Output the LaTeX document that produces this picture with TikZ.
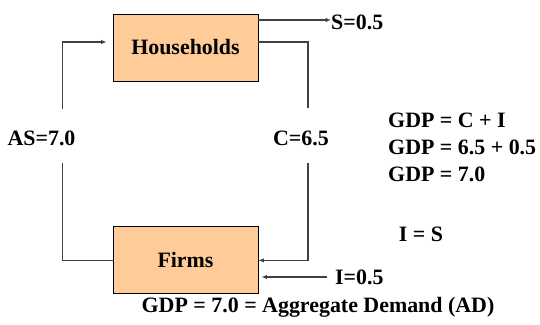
\documentclass[tikz,border=0pt]{standalone}
\usepackage{fontspec}
\setmainfont{Liberation Serif}
\usetikzlibrary{arrows.meta,positioning}
\definecolor{sector}{RGB}{255,204,153}
\tikzset{
  big/.style={font=\fontsize{22}{27}\selectfont\bfseries},
  sectorbox/.style={big,draw=black,fill=sector,minimum width=145bp,minimum height=67bp,line width=0.9bp},
  lab/.style={big,inner sep=0pt},
  wire/.style={draw=black!75,line width=1.2bp},
  flow/.style={wire,-{Latex[length=5.5bp,width=4.5bp]}},
}

\begin{document}
\begin{tikzpicture}[x=1bp,y=1bp]
\useasboundingbox (0,0) rectangle (540,324);

\node[sectorbox] (hh) at (185.5,276.5) {Households};
\node[sectorbox,below=145bp of hh] (firms) {Firms};

\node[lab] (as) at (41.5,186) {AS=7.0};
\node[lab] (c) at (301,186) {C=6.5};
\node[lab,anchor=west] (s) at (331,302) {S=0.5};
\node[lab,anchor=west] (i) at (335,47) {I=0.5};
\node[lab,anchor=west,align=left] (gdp) at (388,177) {GDP = C + I\\GDP = 6.5 + 0.5\\GDP = 7.0};
\node[lab] (ieqs) at (421,90) {I = S};
\node[lab] (ad) at (318,17) {GDP = 7.0 = Aggregate Demand (AD)};

% ends of the lines broken by the labels
\coordinate (asup) at (62.5,215);
\coordinate (asdown) at (62.5,161);
\coordinate (cup) at (308,216);
\coordinate (cdown) at (308,161);

\draw[wire] (firms.west) -| (asdown);
\draw[flow] (asup) |- ([xshift=-6bp,yshift=5.5bp]hh.west);
\draw[wire] ([yshift=5.5bp]hh.east) -| (cup);
\draw[flow] (cdown) |- (firms.east);
\draw[flow] ([yshift=27.5bp]hh.east) -- ([yshift=27.5bp]hh.east -| s.west);
\draw[flow] ([xshift=-8bp]i.west) -- ([xshift=3bp]i.west -| firms.east);
\end{tikzpicture}
\end{document}
